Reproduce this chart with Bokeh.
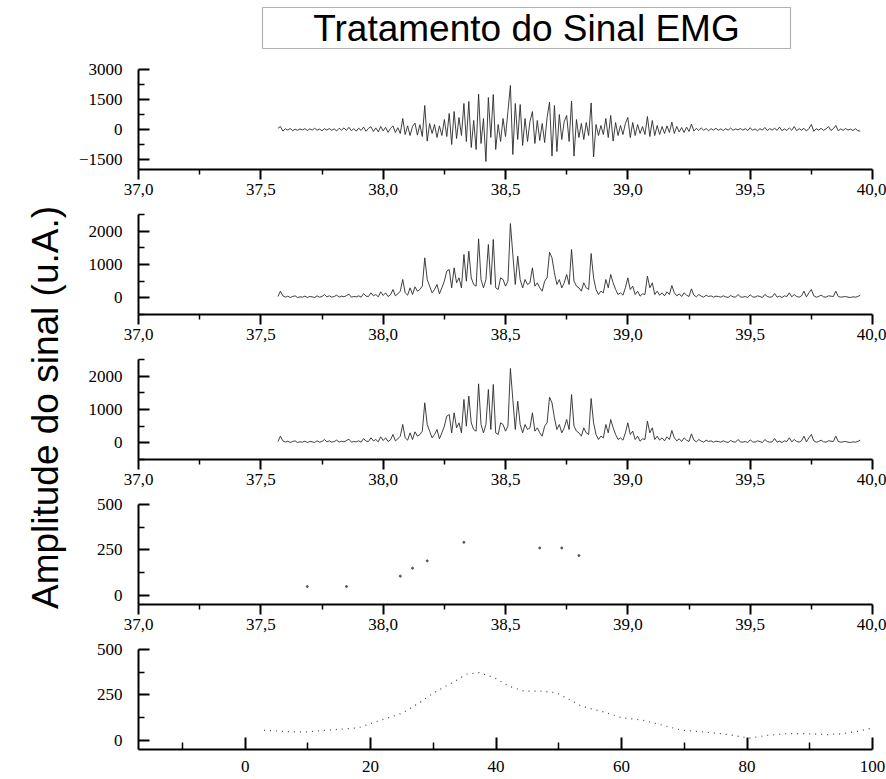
import numpy as np
from bokeh.plotting import figure
from bokeh.layouts import row, column
from bokeh.models import Range1d, FixedTicker, Label, BoxAnnotation
from bokeh.embed import file_html
from bokeh.resources import INLINE

title_text = "Tratamento do Sinal EMG"
ylabel_text = "Amplitude do sinal (u.A.)"

# raw EMG (u.A.), sampled from 37.57 s every 0.01 s
t_start = 37.57
t_step = 0.01
raw_signal = [
    60, 150, -80, 40, -30, 50, -60, 20, -40, 30,
    -20, 40, -50, 30, -30, 60, -40, 20, -60, 40,
    -30, 50, -40, 30, -70, 60, -30, 80, -50, 110,
    -60, 40, -80, 70, -50, 120, -90, 60, 140, -100,
    80, -120, 150, -70, 110, -140, 60, 180, -150, 90,
    -200, 550, -250, 180, -300, 160, 320, -280, 240, -350,
    1200, -580, 300, -200, 250, -400, 180, -300, 500, -350,
    800, -750, 900, -450, 600, -300, 1300, -600, 1400, -900,
    450, -1000, 1770, -700, 550, -1600, 1600, -400, 1750, -1000,
    250, -600, 550, -350, 900, 2200, -1250, 1300, -500, 1250,
    -800, 550, -600, 400, 900, -700, 450, -550, 300, -650,
    600, 1370, -1330, 1200, -1100, 750, -500, 400, 700, -600,
    1420, -1330, 500, -400, 300, -500, 350, -300, 1330, -1370,
    250, -300, 200, -250, 550, -400, 700, -580, 350, -300,
    200, -250, 300, 600, -400, 350, -300, 250, -200, 150,
    -250, 650, -350, 450, -300, 200, -250, 150, -200, 180,
    -150, 370, -200, 150, -120, 100, -150, 120, -100, 270,
    -80, 60, -50, 80, -40, 50, -60, 40, -30, 60,
    -40, 30, -50, 40, -30, 70, -40, 30, -20, 50,
    -30, 40, -50, 90, -40, 30, -60, 40, -30, 100,
    -50, 40, -30, 60, -40, 120, -60, 30, -50, 80,
    -40, 150, -60, 40, -30, 60, -80, 50, 250, -90,
    40, -30, 60, -40, 30, 150, -50, 40, 200, -60,
    30, -40, 50, -30, 20, -50, 40, -60, -80,
]

# rectified EMG (u.A.), same time base
rectified_signal = [
    40, 200, 60, 20, 50, 10, 40, 60, 10, 30,
    20, 50, 10, 40, 30, 10, 60, 20, 40, 100,
    30, 60, 20, 40, 80, 20, 50, 30, 70, 110,
    20, 40, 30, 60, 20, 130, 50, 40, 150, 60,
    100, 30, 180, 70, 150, 40, 90, 250, 60, 120,
    200, 550, 150, 80, 300, 100, 330, 200, 250, 350,
    1200, 550, 350, 150, 250, 400, 120, 300, 500, 800,
    850, 300, 900, 450, 600, 300, 1300, 500, 1400, 600,
    400, 350, 1770, 550, 300, 550, 1600, 400, 1750, 300,
    250, 600, 550, 350, 500, 2230, 1300, 400, 1250, 550,
    300, 550, 400, 450, 900, 350, 450, 300, 200, 500,
    600, 1370, 1200, 750, 400, 550, 300, 450, 700, 400,
    1450, 500, 350, 300, 200, 450, 300, 250, 1330, 600,
    250, 100, 200, 150, 550, 300, 700, 450, 250, 100,
    150, 80, 300, 600, 250, 350, 100, 200, 50, 120,
    100, 650, 300, 450, 100, 200, 80, 150, 60, 180,
    100, 370, 150, 60, 120, 40, 150, 80, 40, 270,
    80, 30, 100, 50, 20, 80, 40, 60, 20, 50,
    40, 20, 60, 30, 10, 70, 30, 20, 100, 30,
    20, 40, 10, 90, 30, 20, 60, 40, 10, 100,
    40, 20, 30, 130, 20, 50, 10, 60, 40, 150,
    30, 100, 40, 20, 60, 200, 30, 150, 250, 60,
    20, 40, 80, 30, 20, 60, 50, 40, 200, 40,
    20, 30, 40, 20, 10, 30, 20, 40, 80,
]

# envelope samples visible in panel 4
envelope_time = [37.69, 37.85, 38.07, 38.12, 38.18, 38.33, 38.64, 38.73, 38.80]
envelope_vals = [49, 49, 106, 150, 190, 292, 261, 261, 219]

# normalised envelope (panel 5), x in % of cycle
norm_pct = [3, 7.3, 9.7, 13, 15.3, 18, 20, 22.5, 25, 27.7, 30, 33, 35.3, 37.3,
            39.7, 42, 44.5, 47.3, 49.7, 51.7, 53.7, 56.9, 60, 63.3, 66.5, 69.6,
            72.8, 76, 78.4, 80.4, 83.2, 86.4, 89.6, 92.8, 95.2, 97.6, 99.6]
norm_vals = [56, 47, 47, 56, 62, 69, 93, 121, 149, 205, 261, 317, 364, 373,
             345, 299, 271, 271, 261, 224, 187, 159, 125, 112, 84, 56,
             47, 37, 24, 13, 28, 37, 37, 32, 37, 50, 65]

time_ticks = [37.0, 37.5, 38.0, 38.5, 39.0, 39.5, 40.0]
time_minor = [37.25, 37.75, 38.25, 38.75, 39.25, 39.75]
time_labels = ["37,0", "37,5", "38,0", "38,5", "39,0", "39,5", "40,0"]
pct_ticks = [0, 20, 40, 60, 80, 100]
pct_minor = [-10, 10, 30, 50, 70, 90]

SERIF = "Liberation Serif"
SANS = "Liberation Sans"

time = t_start + t_step * np.arange(len(raw_signal))


def make_panel(yr, yticks, yminor, xr, xticks, xminor, xlabels, bottom, inside=False):
    p = figure(frame_width=734, frame_height=100, title=None,
               x_range=Range1d(*xr), y_range=Range1d(*yr),
               output_backend="svg", toolbar_location=None,
               min_border_left=68, min_border_right=14,
               min_border_top=8, min_border_bottom=bottom)
    p.outline_line_color = None
    p.grid.visible = False
    p.background_fill_color = "white"
    p.border_fill_color = "white"
    for ax in (p.xaxis[0], p.yaxis[0]):
        ax.axis_line_width = 2
        ax.axis_line_color = "black"
        ax.major_tick_line_width = 2
        ax.minor_tick_line_width = 1.5
        ax.major_tick_line_color = "black"
        ax.minor_tick_line_color = "black"
        ax.major_label_text_font = SERIF
        ax.major_label_text_font_size = "17px"
        ax.major_label_text_color = "black"
    xa = p.xaxis[0]
    xa.ticker = FixedTicker(ticks=xticks, minor_ticks=xminor)
    if xlabels is not None:
        xa.major_label_overrides = {v: s for v, s in zip(xticks, xlabels)}
    if inside:
        xa.major_tick_in, xa.major_tick_out = 12, 0
        xa.minor_tick_in, xa.minor_tick_out = 7, 0
        xa.major_label_standoff = 11
    else:
        xa.major_tick_in, xa.major_tick_out = 0, 10
        xa.minor_tick_in, xa.minor_tick_out = 0, 5
        xa.major_label_standoff = 4
    ya = p.yaxis[0]
    ya.ticker = FixedTicker(ticks=yticks, minor_ticks=yminor)
    ya.major_tick_in, ya.major_tick_out = 11, 0
    ya.minor_tick_in, ya.minor_tick_out = 6, 0
    ya.major_label_standoff = 16
    return p


p1 = make_panel((-2000, 3000), [-1500, 0, 1500, 3000], [-750, 750, 2250],
                (37.0, 40.0), time_ticks, time_minor, time_labels, 37)
p1.line(time, raw_signal, line_color="#2a2a2a", line_width=0.9)

p2 = make_panel((-500, 2500), [0, 1000, 2000], [-500, 500, 1500, 2500],
                (37.0, 40.0), time_ticks, time_minor, time_labels, 37)
p2.line(time, rectified_signal, line_color="#2a2a2a", line_width=0.9)

p3 = make_panel((-500, 2500), [0, 1000, 2000], [-500, 500, 1500, 2500],
                (37.0, 40.0), time_ticks, time_minor, time_labels, 37)
p3.line(time, rectified_signal, line_color="#2a2a2a", line_width=0.9)

p4 = make_panel((-50, 500), [0, 250, 500], [125, 375],
                (37.0, 40.0), time_ticks, time_minor, time_labels, 37)
p4.scatter(envelope_time, envelope_vals, size=2, color="#555555")

p5 = make_panel((-50, 500), [0, 250, 500], [125, 375],
                (-17, 100), pct_ticks, pct_minor, None, 30, inside=True)
p5.line(norm_pct, norm_vals, line_color="#444444", line_width=1.2, line_dash="1 5")

# title strip (same horizontal structure as the panels)
tf = figure(frame_width=734, frame_height=61, title=None,
            x_range=Range1d(0, 734), y_range=Range1d(0, 61),
            output_backend="svg", toolbar_location=None,
            min_border_left=68, min_border_right=14,
            min_border_top=0, min_border_bottom=0,
            x_axis_type=None, y_axis_type=None)
tf.outline_line_color = None
tf.grid.visible = False
tf.add_layout(BoxAnnotation(left=124, right=652, bottom=13, top=54,
                            fill_alpha=0, line_color="black", line_width=1.2))
tf.add_layout(Label(x=388, y=33, text=title_text, text_align="center",
                    text_baseline="middle", text_font=SANS,
                    text_font_size="37px", text_color="black"))

# left strip with the shared y label
lf = figure(frame_width=70, frame_height=779, title=None,
            x_range=Range1d(0, 70), y_range=Range1d(0, 779),
            output_backend="svg", toolbar_location=None,
            min_border=0, x_axis_type=None, y_axis_type=None)
lf.outline_line_color = None
lf.grid.visible = False
lf.add_layout(Label(x=45, y=372, text=ylabel_text, angle=np.pi / 2,
                    text_align="center", text_baseline="middle",
                    text_font=SANS, text_font_size="37px", text_color="black"))

layout = row(lf, column(tf, p1, p2, p3, p4, p5, spacing=0), spacing=0)

open("out.html", "w").write(file_html(layout, INLINE))
